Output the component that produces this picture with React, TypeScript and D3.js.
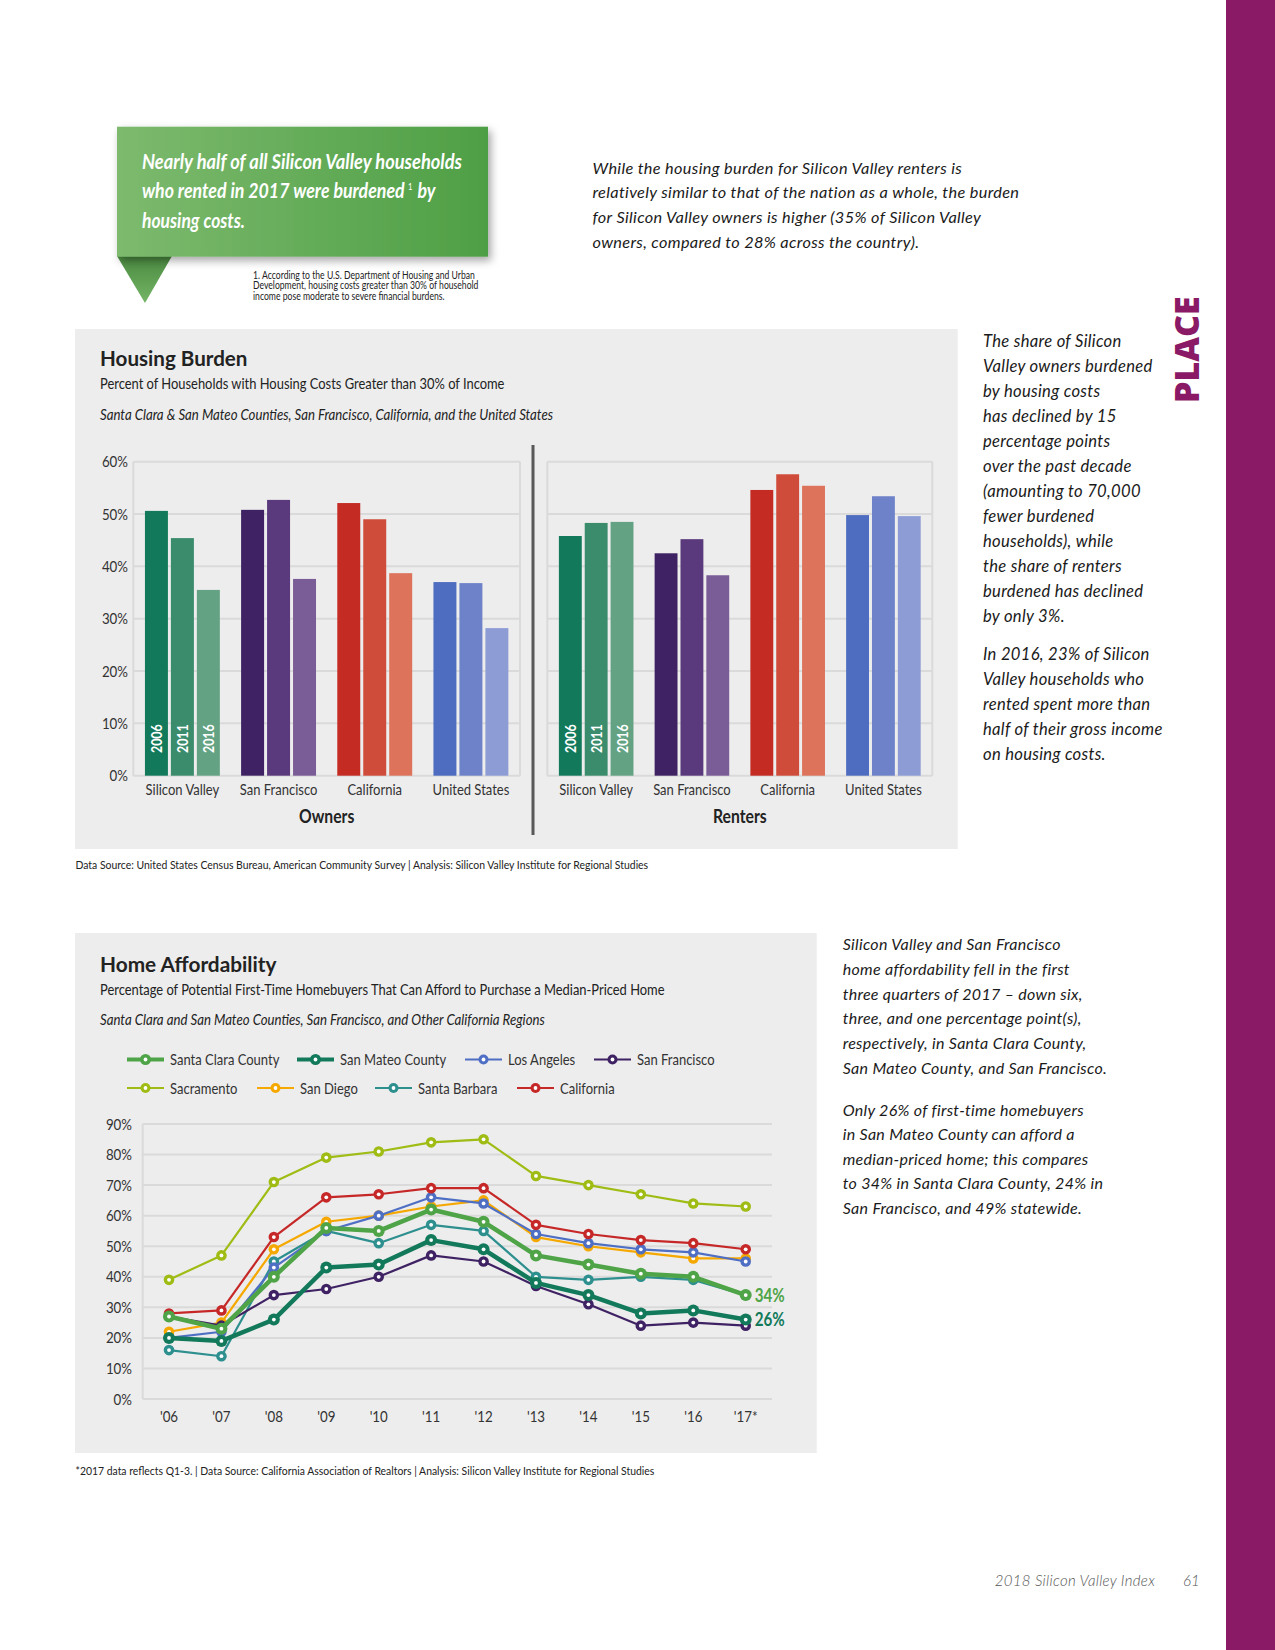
import React from "react";
import * as d3 from "d3";

// ---------- DATA ----------
const barGroups = ["Silicon Valley", "San Francisco", "California", "United States"];
const barYears = ["2006", "2011", "2016"];
const ownersValues = [
  [50.6, 45.4, 35.5],
  [50.8, 52.7, 37.6],
  [52.1, 49.0, 38.7],
  [37.0, 36.8, 28.2],
];
const rentersValues = [
  [45.8, 48.3, 48.5],
  [42.5, 45.2, 38.3],
  [54.6, 57.6, 55.4],
  [49.8, 53.4, 49.6],
];
const barTicks = [0, 10, 20, 30, 40, 50, 60];
const barColors = [
  ["#127A5A", "#3A8C6D", "#63A384"],
  ["#3F2263", "#5A3A7C", "#7A5C96"],
  ["#C42B23", "#D04C3A", "#DC735A"],
  ["#4E6DC0", "#6E82C9", "#8E9CD6"],
];

const lineYears = ["'06", "'07", "'08", "'09", "'10", "'11", "'12", "'13", "'14", "'15", "'16", "'17*"];
const lineTicks = [0, 10, 20, 30, 40, 50, 60, 70, 80, 90];
const santaBarbara = [16, 14, 45, 55, 51, 57, 55, 40, 39, 40, 39, 34];
const sanDiego = [22, 25, 49, 58, 60, 63, 65, 53, 50, 48, 46, 46];
const losAngeles = [20, 22, 43, 55, 60, 66, 64, 54, 51, 49, 48, 45];
const sanFrancisco = [27, 24, 34, 36, 40, 47, 45, 37, 31, 24, 25, 24];
const california = [28, 29, 53, 66, 67, 69, 69, 57, 54, 52, 51, 49];
const sacramento = [39, 47, 71, 79, 81, 84, 85, 73, 70, 67, 64, 63];
const sanMateo = [20, 19, 26, 43, 44, 52, 49, 38, 34, 28, 29, 26];
const santaClara = [27, 23, 40, 56, 55, 62, 58, 47, 44, 41, 40, 34];

const seriesDraw = [
  { name: "Santa Barbara", values: santaBarbara, color: "#2E8F8F", thick: false },
  { name: "San Diego", values: sanDiego, color: "#F5A800", thick: false },
  { name: "Los Angeles", values: losAngeles, color: "#4F6FC4", thick: false },
  { name: "San Francisco", values: sanFrancisco, color: "#3F2263", thick: false },
  { name: "California", values: california, color: "#C62828", thick: false },
  { name: "Sacramento", values: sacramento, color: "#9EBC14", thick: false },
  { name: "San Mateo County", values: sanMateo, color: "#127A5A", thick: true },
  { name: "Santa Clara County", values: santaClara, color: "#4FA447", thick: true },
];
const legendRows = [
  ["Santa Clara County", "San Mateo County", "Los Angeles", "San Francisco"],
  ["Sacramento", "San Diego", "Santa Barbara", "California"],
];

// ---------- LAYOUT / STYLE ----------
const W = 1275;
const H = 1650;
const SANS = "Lato,'Open Sans',sans-serif";
const ITAL = "Lato,'Open Sans',sans-serif";
const PANEL = "#EDEDED";
const GRID = "#DADADA";
const TEXT = "#222";
const legendX = [
  [127, 297, 465, 594],
  [127, 257, 375, 517],
];
const legendY = [1059.5, 1088];

// condensed text: Lato squeezed horizontally
function CT({ x, y, sx = 0.85, anchor = "start", size, weight = 400, italic = false, fill = "#333", rotate = 0, children }: any) {
  const tr = `translate(${x},${y})${rotate ? ` rotate(${rotate})` : ""} scale(${sx},1)`;
  return (
    <text
      transform={tr}
      textAnchor={anchor}
      fontFamily={SANS}
      fontSize={size}
      fontWeight={weight}
      fontStyle={italic ? "italic" : "normal"}
      fill={fill}
    >
      {children}
    </text>
  );
}

function BarPanel({ values, x0, x1, showAxis, title }: any) {
  const y = d3.scaleLinear().domain([0, 60]).range([775.7, 461.7]);
  const gx = d3.scaleBand().domain(barGroups).range([x0, x1]).paddingInner(0.221).paddingOuter(0.121);
  const bx = d3.scaleBand().domain(barYears).range([0, gx.bandwidth()]).paddingInner(0.115);
  return (
    <g>
      {barTicks.map((t) => (
        <line key={t} x1={x0} x2={x1} y1={y(t)} y2={y(t)} stroke={GRID} strokeWidth={2} />
      ))}
      <line x1={x0} x2={x0} y1={y(60)} y2={y(0)} stroke={GRID} strokeWidth={2} />
      <line x1={x1} x2={x1} y1={y(60)} y2={y(0)} stroke={GRID} strokeWidth={2} />
      {showAxis &&
        barTicks.map((t) => (
          <CT key={"l" + t} x={128} y={y(t) + 5.5} anchor="end" size={15.5} sx={0.86}>
            {t}%
          </CT>
        ))}
      {barGroups.map((g, gi) => (
        <g key={g}>
          {barYears.map((yr, yi) => {
            const v = values[gi][yi];
            const bxp = (gx(g) as number) + (bx(yr) as number);
            return (
              <rect key={yr} x={bxp} y={y(v)} width={bx.bandwidth()} height={y(0) - y(v)} fill={barColors[gi][yi]} />
            );
          })}
          {gi === 0 &&
            barYears.map((yr) => {
              const cx = (gx(g) as number) + (bx(yr) as number) + bx.bandwidth() / 2;
              return (
                <CT key={"t" + yr} x={cx + 5.5} y={753} rotate={-90} size={15.5} weight={700} sx={0.8} fill="#fff">
                  {yr}
                </CT>
              );
            })}
          <CT x={(gx(g) as number) + gx.bandwidth() / 2} y={795} anchor="middle" size={15.5} sx={0.84}>
            {g}
          </CT>
        </g>
      ))}
      <CT x={(x0 + x1) / 2} y={823} anchor="middle" size={18.5} weight={700} sx={0.85} fill={TEXT}>
        {title}
      </CT>
    </g>
  );
}

function Marker({ cx, cy, color, r }: any) {
  return (
    <g>
      <circle cx={cx} cy={cy} r={r} fill={color} />
      <circle cx={cx} cy={cy} r={1.9} fill="#fff" />
    </g>
  );
}

function LineChart() {
  const x = d3.scalePoint().domain(lineYears).range([169, 745.7]);
  const y = d3.scaleLinear().domain([0, 90]).range([1399, 1124]);
  const line = d3
    .line<number>()
    .x((_, i) => x(lineYears[i]) as number)
    .y((d) => y(d));
  const byName: any = {};
  seriesDraw.forEach((s) => (byName[s.name] = s));
  const lastSC = santaClara[santaClara.length - 1];
  const lastSM = sanMateo[sanMateo.length - 1];
  const lastX = x(lineYears[lineYears.length - 1]) as number;
  return (
    <g>
      {lineTicks.map((t) => (
        <g key={t}>
          <line x1={142.7} x2={772} y1={y(t)} y2={y(t)} stroke={GRID} strokeWidth={2} />
          <CT x={132} y={y(t) + 5.5} anchor="end" size={15.5} sx={0.86}>
            {t}%
          </CT>
        </g>
      ))}
      <line x1={142.7} x2={142.7} y1={y(90)} y2={y(0)} stroke={GRID} strokeWidth={2} />
      {lineYears.map((yr) => (
        <CT key={yr} x={x(yr)} y={1421.5} anchor="middle" size={15.5} sx={0.86}>
          {yr}
        </CT>
      ))}
      {seriesDraw.map((s) => (
        <g key={s.name}>
          <path d={line(s.values) as string} fill="none" stroke={s.color} strokeWidth={s.thick ? 4.5 : 2.2} strokeLinejoin="round" />
          {s.values.map((v, i) => (
            <Marker key={i} cx={x(lineYears[i])} cy={y(v)} color={s.color} r={s.thick ? 6 : 5.3} />
          ))}
        </g>
      ))}
      <CT x={lastX + 9} y={y(lastSC) + 6.5} size={18.5} weight={700} sx={0.82} fill="#4FA447">
        {lastSC}%
      </CT>
      <CT x={lastX + 9} y={y(lastSM) + 6.5} size={18.5} weight={700} sx={0.82} fill="#127A5A">
        {lastSM}%
      </CT>
      {legendRows.map((row, ri) =>
        row.map((name, ci) => {
          const s = byName[name];
          const lx = legendX[ri][ci];
          const ly = legendY[ri];
          return (
            <g key={name}>
              <line x1={lx} x2={lx + 37} y1={ly} y2={ly} stroke={s.color} strokeWidth={s.thick ? 4 : 2.2} />
              <Marker cx={lx + 18.5} cy={ly} color={s.color} r={s.thick ? 5.5 : 5} />
              <CT x={lx + 43} y={ly + 5.5} size={15.5} sx={0.84}>
                {name}
              </CT>
            </g>
          );
        })
      )}
    </g>
  );
}

function Lines({ x, y0, dy, lines, size, color, family, italic, weight, spacing }: any) {
  return (
    <text
      fontFamily={family}
      fontSize={size}
      fill={color}
      fontStyle={italic ? "italic" : "normal"}
      fontWeight={weight || 400}
      letterSpacing={spacing || 0}
    >
      {lines.map((l: string, i: number) => (
        <tspan key={i} x={x} y={y0 + i * dy}>
          {l}
        </tspan>
      ))}
    </text>
  );
}

export default function App() {
  const footLines = [
    "1.  According to the U.S. Department of Housing and Urban",
    "Development, housing costs greater than 30% of household",
    "income pose moderate to severe financial burdens.",
  ];
  return (
    <svg width={W} height={H} viewBox={`0 0 ${W} ${H}`} style={{ position: "absolute", left: 0, top: 0, background: "#fff" }}>
      <defs>
        <linearGradient id="calloutGrad" x1="0" x2="1" y1="0" y2="0">
          <stop offset="0" stopColor="#7DBA6E" />
          <stop offset="1" stopColor="#4E9F45" />
        </linearGradient>
        <linearGradient id="triGrad" x1="0" x2="0" y1="0" y2="1">
          <stop offset="0" stopColor="#4A8A40" />
          <stop offset="1" stopColor="#74B566" />
        </linearGradient>
        <filter id="shadow" x="-10%" y="-10%" width="130%" height="140%">
          <feDropShadow dx="3" dy="4" stdDeviation="4" floodColor="#000" floodOpacity="0.35" />
        </filter>
      </defs>
      <rect x={0} y={0} width={W} height={H} fill="#fff" />
      {/* magenta side bar */}
      <rect x={1226} y={0} width={W - 1226} height={H} fill="#8A1A66" />
      <text transform="translate(1199,403) rotate(-90)" fontFamily="'Open Sans',sans-serif" fontWeight={800} fontSize={34} fill="#8A1A66">
        PLACE
      </text>

      {/* callout */}
      <polygon points="117,256 172,256 145,303" fill="url(#triGrad)" />
      <rect x={117} y={126.7} width={371} height={130} fill="url(#calloutGrad)" filter="url(#shadow)" />
      <g fontFamily={SANS} fontWeight={700} fontStyle="italic" fontSize={21} fill="#fff">
        <text x={142} y={168.5} textLength={320} lengthAdjust="spacingAndGlyphs">
          Nearly half of all Silicon Valley households
        </text>
        <text transform="translate(142,198) scale(0.845,1)">
          who rented in 2017 were burdened
          <tspan dx={4} dy={-8} fontSize={9} fontWeight={400} fontStyle="normal">
            1
          </tspan>
          <tspan dx={6} dy={8}>
            by
          </tspan>
        </text>
        <text x={142} y={227.5} textLength={103} lengthAdjust="spacingAndGlyphs">
          housing costs.
        </text>
      </g>
      {footLines.map((l, i) => (
        <CT key={i} x={253} y={278.5 + i * 10.6} size={10.8} sx={0.8} fill="#222">
          {l}
        </CT>
      ))}

      {/* top paragraph */}
      <Lines
        x={592.5}
        y0={173.5}
        dy={24.9}
        size={16.3}
        italic
        spacing={0.35}
        color="#1a1a1a"
        family={ITAL}
        lines={[
          "While the housing burden for Silicon Valley renters is",
          "relatively similar to that of the nation as a whole, the burden",
          "for Silicon Valley owners is higher (35% of Silicon Valley",
          "owners, compared to 28% across the country).",
        ]}
      />

      {/* Housing burden panel */}
      <rect x={75} y={329} width={882.7} height={520} fill={PANEL} />
      <text x={100} y={366} fontFamily={SANS} fontWeight={700} fontSize={20.6} fill={TEXT}>
        Housing Burden
      </text>
      <CT x={100} y={388.5} size={15.2} sx={0.85} fill={TEXT}>
        Percent of Households with Housing Costs Greater than 30% of Income
      </CT>
      <CT x={100} y={420} size={14.6} sx={0.905} italic fill={TEXT}>
        Santa Clara &amp; San Mateo Counties, San Francisco, California, and the United States
      </CT>
      <BarPanel values={ownersValues} x0={133.3} x1={520} showAxis title="Owners" />
      <BarPanel values={rentersValues} x0={547.3} x1={932.3} showAxis={false} title="Renters" />
      <line x1={533} x2={533} y1={445} y2={835} stroke="#58585A" strokeWidth={3} />
      <CT x={75.5} y={869} size={11.2} sx={0.93} fill="#222">
        Data Source: United States Census Bureau, American Community Survey | Analysis: Silicon Valley Institute for Regional Studies
      </CT>

      {/* right side text 1 */}
      <Lines
        x={983}
        y0={347.3}
        dy={24.95}
        size={16.6}
        italic
        spacing={0.3}
        color="#1a1a1a"
        family={ITAL}
        lines={[
          "The share of Silicon",
          "Valley owners burdened",
          "by housing costs",
          "has declined by 15",
          "percentage points",
          "over the past decade",
          "(amounting to 70,000",
          "fewer burdened",
          "households), while",
          "the share of renters",
          "burdened has declined",
          "by only 3%.",
        ]}
      />
      <Lines
        x={983}
        y0={660}
        dy={24.95}
        size={16.6}
        italic
        spacing={0.3}
        color="#1a1a1a"
        family={ITAL}
        lines={[
          "In 2016, 23% of Silicon",
          "Valley households who",
          "rented spent more than",
          "half of their gross income",
          "on housing costs.",
        ]}
      />

      {/* Home affordability panel */}
      <rect x={75} y={933} width={741.7} height={520} fill={PANEL} />
      <text x={100} y={972} fontFamily={SANS} fontWeight={700} fontSize={20.8} fill={TEXT}>
        Home Affordability
      </text>
      <CT x={100} y={995} size={15.2} sx={0.85} fill={TEXT}>
        Percentage of Potential First-Time Homebuyers That Can Afford to Purchase a Median-Priced Home
      </CT>
      <CT x={100} y={1025} size={14.6} sx={0.905} italic fill={TEXT}>
        Santa Clara and San Mateo Counties, San Francisco, and Other California Regions
      </CT>
      <LineChart />
      <CT x={75.5} y={1475} size={11.2} sx={0.93} fill="#222">
        *2017 data reflects Q1-3. | Data Source: California Association of Realtors | Analysis: Silicon Valley Institute for Regional Studies
      </CT>

      {/* right side text 2 */}
      <Lines
        x={842.7}
        y0={950}
        dy={24.8}
        size={16}
        italic
        spacing={0.3}
        color="#1a1a1a"
        family={ITAL}
        lines={[
          "Silicon Valley and San Francisco",
          "home affordability fell in the first",
          "three quarters of 2017 – down six,",
          "three, and one percentage point(s),",
          "respectively, in Santa Clara County,",
          "San Mateo County, and San Francisco.",
        ]}
      />
      <Lines
        x={842.7}
        y0={1116}
        dy={24.4}
        size={16}
        italic
        spacing={0.3}
        color="#1a1a1a"
        family={ITAL}
        lines={[
          "Only 26% of first-time homebuyers",
          "in San Mateo County can afford a",
          "median-priced home; this compares",
          "to 34% in Santa Clara County, 24% in",
          "San Francisco, and 49% statewide.",
        ]}
      />

      {/* page footer */}
      <text x={1155} y={1586} textAnchor="end" fontFamily={ITAL} fontStyle="italic" fontWeight={300} fontSize={15} fill="#555" letterSpacing={0.3}>
        2018 Silicon Valley Index
      </text>
      <text x={1183} y={1586} fontFamily={ITAL} fontStyle="italic" fontWeight={300} fontSize={15} fill="#555">
        61
      </text>
    </svg>
  );
}
